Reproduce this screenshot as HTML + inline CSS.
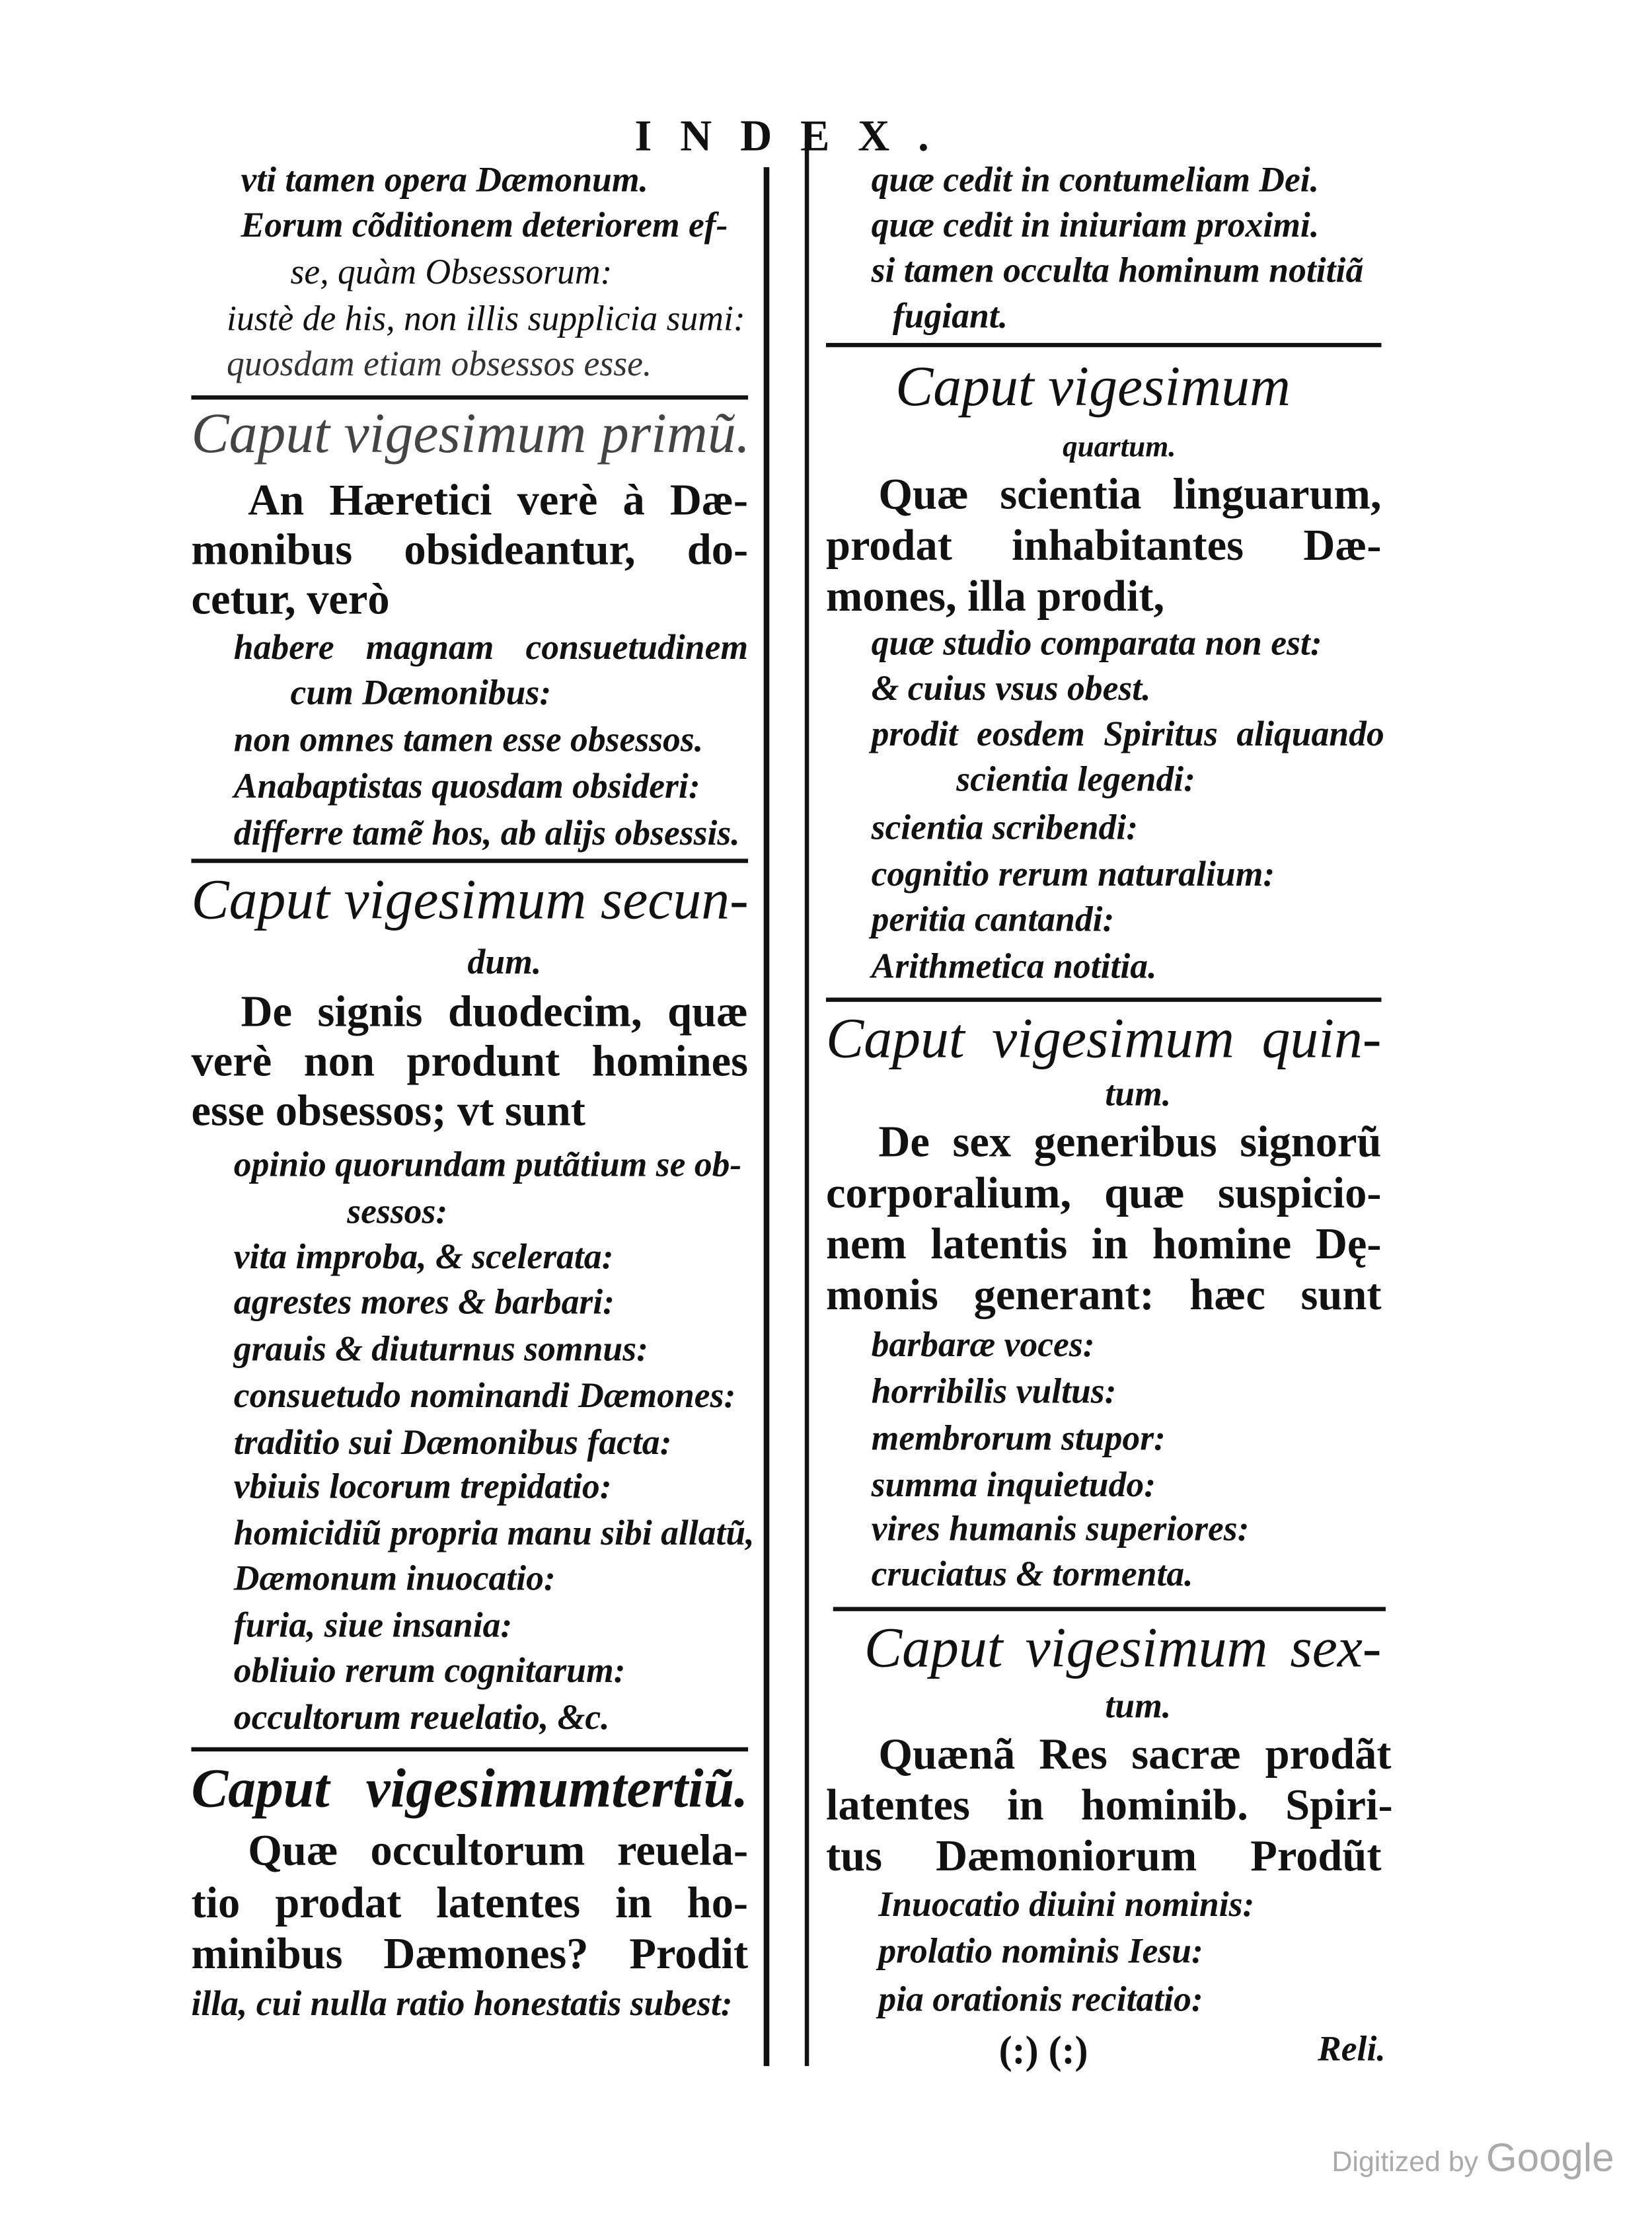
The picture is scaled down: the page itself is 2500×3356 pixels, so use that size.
<!DOCTYPE html>
<html><head><meta charset="utf-8">
<style>
html,body{margin:0;padding:0;background:#fff;}
body{width:2500px;height:3356px;overflow:hidden;position:relative;}
#w{position:absolute;left:0;top:0;width:1166px;height:1565px;transform:scale(2.1441);transform-origin:0 0;}
.t{position:absolute;white-space:nowrap;color:#111;font-family:"Liberation Serif",serif;}
.i{font-style:italic;font-weight:bold;font-size:25px;line-height:25px;}
.r{font-size:31px;line-height:31px;font-weight:bold;}
.c{font-style:italic;font-size:40px;line-height:40px;}
.j{text-align:justify;text-align-last:justify;}
.h{position:absolute;height:3px;background:#111;}
.v{position:absolute;width:3px;background:#111;}
</style></head><body><div id="w">
<div class="t" style="left:448px;top:78px;font-size:31px;font-weight:bold;letter-spacing:20px;">INDEX.</div>
<div class="v" style="left:539px;top:118px;height:1340px;width:4px"></div>
<div class="v" style="left:568px;top:100px;height:1358px;"></div>

<!-- left column -->
<div class="t i" style="left:170px;top:115px">vti tamen opera Dæmonum.</div>
<div class="t i" style="left:170px;top:147px">Eorum cõditionem deteriorem ef-</div>
<div class="t i" style="left:205px;top:180px;font-weight:normal">se, quàm Obsessorum:</div>
<div class="t i" style="left:160px;top:213px;font-weight:normal">iustè de his, non illis supplicia sumi:</div>
<div class="t i" style="left:160px;top:245px;font-weight:normal;color:#333">quosdam etiam obsessos esse.</div>
<div class="h" style="left:135px;top:279px;width:393px"></div>
<div class="t c j" style="left:135px;top:286px;width:393px;color:#444">Caput vigesimum primũ.</div>
<div class="t r j" style="left:175px;top:337px;width:353px">An Hæretici verè à Dæ-</div>
<div class="t r j" style="left:135px;top:372px;width:393px">monibus obsideantur, do-</div>
<div class="t r" style="left:135px;top:407px">cetur, verò</div>
<div class="t i j" style="left:165px;top:445px;width:363px">habere magnam consuetudinem</div>
<div class="t i" style="left:205px;top:477px">cum Dæmonibus:</div>
<div class="t i" style="left:165px;top:510px">non omnes tamen esse obsessos.</div>
<div class="t i" style="left:165px;top:543px">Anabaptistas quosdam obsideri:</div>
<div class="t i" style="left:165px;top:576px">differre tamẽ hos, ab alijs obsessis.</div>
<div class="h" style="left:135px;top:606px;width:393px"></div>
<div class="t c j" style="left:135px;top:615px;width:393px">Caput vigesimum secun-</div>
<div class="t i" style="left:330px;top:667px">dum.</div>
<div class="t r j" style="left:170px;top:698px;width:358px">De signis duodecim, quæ</div>
<div class="t r j" style="left:135px;top:733px;width:393px">verè non produnt homines</div>
<div class="t r" style="left:135px;top:768px">esse obsessos; vt sunt</div>
<div class="t i" style="left:165px;top:810px">opinio quorundam putãtium se ob-</div>
<div class="t i" style="left:245px;top:843px">sessos:</div>
<div class="t i" style="left:165px;top:875px">vita improba, & scelerata:</div>
<div class="t i" style="left:165px;top:907px">agrestes mores & barbari:</div>
<div class="t i" style="left:165px;top:940px">grauis & diuturnus somnus:</div>
<div class="t i" style="left:165px;top:973px">consuetudo nominandi Dæmones:</div>
<div class="t i" style="left:165px;top:1006px">traditio sui Dæmonibus facta:</div>
<div class="t i" style="left:165px;top:1037px">vbiuis locorum trepidatio:</div>
<div class="t i" style="left:165px;top:1070px">homicidiũ propria manu sibi allatũ,</div>
<div class="t i" style="left:165px;top:1102px">Dæmonum inuocatio:</div>
<div class="t i" style="left:165px;top:1135px">furia, siue insania:</div>
<div class="t i" style="left:165px;top:1167px">obliuio rerum cognitarum:</div>
<div class="t i" style="left:165px;top:1200px">occultorum reuelatio, &c.</div>
<div class="h" style="left:135px;top:1233px;width:393px"></div>
<div class="t c j" style="left:135px;top:1243px;width:393px;font-weight:bold;font-size:39px">Caput vigesimumtertiũ.</div>
<div class="t r j" style="left:175px;top:1290px;width:353px">Quæ occultorum reuela-</div>
<div class="t r j" style="left:135px;top:1327px;width:393px">tio prodat latentes in ho-</div>
<div class="t r j" style="left:135px;top:1363px;width:393px">minibus Dæmones? Prodit</div>
<div class="t i" style="left:135px;top:1402px">illa, cui nulla ratio honestatis subest:</div>

<!-- right column -->
<div class="t i" style="left:615px;top:115px">quæ cedit in contumeliam Dei.</div>
<div class="t i" style="left:615px;top:147px">quæ cedit in iniuriam proximi.</div>
<div class="t i" style="left:615px;top:179px">si tamen occulta hominum notitiã</div>
<div class="t i" style="left:630px;top:211px">fugiant.</div>
<div class="h" style="left:583px;top:242px;width:392px"></div>
<div class="t c" style="left:632px;top:253px">Caput vigesimum</div>
<div class="t i" style="left:750px;top:303px;font-size:21px">quartum.</div>
<div class="t r j" style="left:620px;top:333px;width:355px">Quæ scientia linguarum,</div>
<div class="t r j" style="left:583px;top:369px;width:392px">prodat inhabitantes Dæ-</div>
<div class="t r" style="left:583px;top:405px">mones, illa prodit,</div>
<div class="t i" style="left:615px;top:442px">quæ studio comparata non est:</div>
<div class="t i" style="left:615px;top:474px">& cuius vsus obest.</div>
<div class="t i j" style="left:615px;top:506px;width:362px">prodit eosdem Spiritus aliquando</div>
<div class="t i" style="left:675px;top:538px">scientia legendi:</div>
<div class="t i" style="left:615px;top:572px">scientia scribendi:</div>
<div class="t i" style="left:615px;top:605px">cognitio rerum naturalium:</div>
<div class="t i" style="left:615px;top:637px">peritia cantandi:</div>
<div class="t i" style="left:615px;top:670px">Arithmetica notitia.</div>
<div class="h" style="left:583px;top:704px;width:392px"></div>
<div class="t c j" style="left:583px;top:713px;width:392px">Caput vigesimum quin-</div>
<div class="t i" style="left:780px;top:760px">tum.</div>
<div class="t r j" style="left:620px;top:790px;width:355px">De sex generibus signorũ</div>
<div class="t r j" style="left:583px;top:826px;width:392px">corporalium, quæ suspicio-</div>
<div class="t r j" style="left:583px;top:862px;width:392px">nem latentis in homine Dę-</div>
<div class="t r j" style="left:583px;top:898px;width:392px">monis generant: hæc sunt</div>
<div class="t i" style="left:615px;top:937px">barbaræ voces:</div>
<div class="t i" style="left:615px;top:970px">horribilis vultus:</div>
<div class="t i" style="left:615px;top:1003px">membrorum stupor:</div>
<div class="t i" style="left:615px;top:1036px">summa inquietudo:</div>
<div class="t i" style="left:615px;top:1067px">vires humanis superiores:</div>
<div class="t i" style="left:615px;top:1099px">cruciatus & tormenta.</div>
<div class="h" style="left:588px;top:1134px;width:390px"></div>
<div class="t c j" style="left:610px;top:1143px;width:365px">Caput vigesimum sex-</div>
<div class="t i" style="left:780px;top:1192px">tum.</div>
<div class="t r j" style="left:620px;top:1222px;width:362px">Quænã Res sacræ prodãt</div>
<div class="t r j" style="left:583px;top:1258px;width:400px">latentes in hominib. Spiri-</div>
<div class="t r j" style="left:583px;top:1294px;width:392px">tus Dæmoniorum Prodũt</div>
<div class="t i" style="left:620px;top:1332px">Inuocatio diuini nominis:</div>
<div class="t i" style="left:620px;top:1365px">prolatio nominis Iesu:</div>
<div class="t i" style="left:620px;top:1399px">pia orationis recitatio:</div>
<div class="t" style="left:705px;top:1432px;font-size:28px;font-weight:bold">(:) (:)</div>
<div class="t i" style="left:930px;top:1434px">Reli.</div>

<div class="t" style="left:940px;top:1507px;font-family:'Liberation Sans',sans-serif;font-size:20px;color:#aaa">Digitized by <span style="font-size:28px">Google</span></div>
</div></body></html>
